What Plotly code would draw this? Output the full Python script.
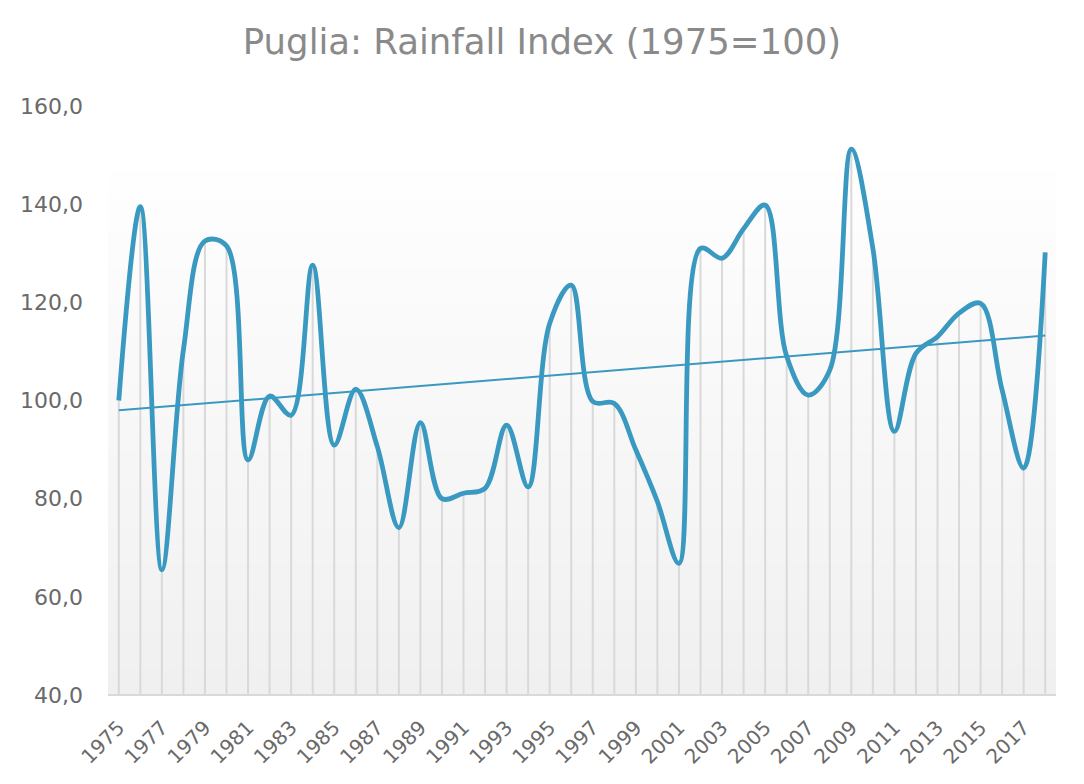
import numpy as np
import plotly.graph_objects as go

years = list(range(1975, 2019))
rain_index = [
    100.0, 139.5, 65.5, 110.3, 132.5, 131.5, 87.9, 100.9, 97.0, 127.6,
    90.9, 102.3, 90.6, 74.1, 95.5, 80.0, 81.1, 82.1, 95.0, 82.4,
    115.7, 123.5, 99.8, 99.4, 89.9, 79.4, 66.8, 131.0, 129.0, 135.0,
    139.8, 109.0, 101.1, 106.2, 151.2, 131.0, 93.7, 109.6, 113.0, 117.8,
    119.8, 102.1, 86.2, 130.2,
]
tick_years = list(range(1975, 2019, 2))
y_ticks = [40, 60, 80, 100, 120, 140, 160]
base_value = 40

BLUE = "#3a99c0"
FONT = "DejaVu Sans"

# linear trend from data
slope, intercept = np.polyfit(years, rain_index, 1)
trend = [slope * y + intercept for y in years]

# drop lines built from data
drop_x, drop_y = [], []
for yr, v in zip(years, rain_index):
    drop_x += [yr, yr, None]
    drop_y += [base_value, v, None]

fig = go.Figure()
fig.add_trace(go.Scatter(x=drop_x, y=drop_y, mode="lines",
                         line=dict(color="#d9d9d9", width=2),
                         hoverinfo="skip", showlegend=False))
fig.add_trace(go.Scatter(x=years, y=trend, mode="lines",
                         line=dict(color=BLUE, width=2),
                         showlegend=False))
fig.add_trace(go.Scatter(x=years, y=rain_index, mode="lines",
                         line=dict(color=BLUE, width=4.8, shape="spline", smoothing=1.0),
                         showlegend=False))

# gradient background in plot area
shapes = []
n = 60
top_frac = 0.888
for i in range(n):
    f0 = top_frac * i / n
    f1 = top_frac * (i + 1) / n
    t = i / (n - 1)
    c = int(round(0xf0 + (0xfe - 0xf0) * t))
    shapes.append(dict(type="rect", xref="paper", yref="paper", x0=0, x1=1,
                       y0=f0, y1=f1 + 0.001, fillcolor=f"rgb({c},{c},{c})",
                       line=dict(width=0), layer="below"))
# baseline
shapes.append(dict(type="line", xref="paper", yref="paper", x0=0, x1=1, y0=0, y1=0,
                   line=dict(color="#d9d9d9", width=2), layer="above"))

fig.update_layout(
    width=1068, height=768,
    margin=dict(l=100, r=20, t=98, b=81),
    paper_bgcolor="white",
    plot_bgcolor="rgba(0,0,0,0)",
    separators=",.",
    title=dict(text="Puglia: Rainfall Index (1975=100)", x=0.5, xref="container",
               y=1 - 34 / 768, yref="container", xanchor="center", yanchor="middle",
               font=dict(family=FONT, size=35.5, color="#8a8a8a")),
    shapes=shapes,
    showlegend=False,
)
fig.update_xaxes(range=[1974.5, 2018.5], tickvals=tick_years,
                 ticktext=[str(y) for y in tick_years], tickangle=-45,
                 showgrid=False, zeroline=False, showline=False, ticks="",
                 ticklabelstandoff=16, automargin=False,
                 tickfont=dict(family=FONT, size=20, color="#6a6a6a"))
fig.update_yaxes(range=[40, 160], tickvals=y_ticks, tickformat=".1f",
                 showgrid=False, zeroline=False, showline=False, ticks="",
                 ticklabelstandoff=24, automargin=False,
                 tickfont=dict(family=FONT, size=22, color="#6a6a6a"))

fig.write_html("out.html")
